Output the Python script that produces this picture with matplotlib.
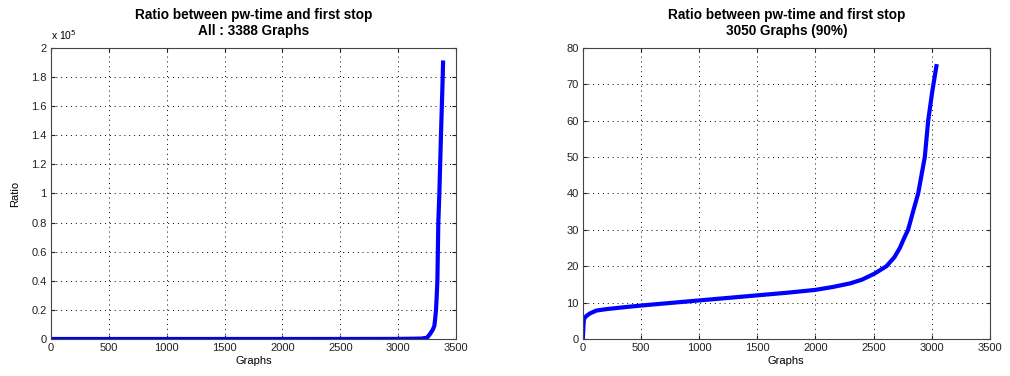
import numpy as np
import matplotlib
matplotlib.use("Agg")
import matplotlib.pyplot as plt
from matplotlib.ticker import FuncFormatter

# left panel: all graphs, sorted ratio
all_x = [1, 500, 1000, 1500, 2000, 2500, 3000, 3200, 3250, 3275, 3300, 3313,
         3320, 3327, 3333, 3339, 3343, 3347, 3356, 3370, 3385, 3388]
all_y = [5, 9, 11, 12, 14, 18, 75, 300, 900, 3400, 6500, 9100,
         14000, 20000, 29000, 40000, 60000, 80000, 100000, 140000, 180000, 190000]

# right panel: 90% of graphs
sub_x = [1, 5, 10, 30, 60, 115, 200, 315, 500, 750, 1000, 1250, 1500, 1750,
         2000, 2150, 2300, 2400, 2510, 2560, 2611, 2680, 2726, 2760, 2797,
         2840, 2884, 2941, 2970, 3005, 3041]
sub_y = [0.5, 3, 5.5, 6.3, 7.0, 7.8, 8.2, 8.6, 9.2, 9.9, 10.6, 11.3, 12.0,
         12.7, 13.5, 14.3, 15.3, 16.3, 18, 19, 20, 22.5, 25, 27.5, 30,
         35, 40, 50, 60, 68, 75]

title1 = "Ratio between pw-time and first stop\nAll : 3388 Graphs"
title2 = "Ratio between pw-time and first stop\n3050 Graphs (90%)"

plt.rcParams['font.family'] = ['Liberation Sans', 'DejaVu Sans']
plt.rcParams['font.size'] = 8

fig = plt.figure(figsize=(10.1, 3.76), dpi=100)
ax1 = fig.add_axes([0.0505, 0.0984, 0.401, 0.774])
ax2 = fig.add_axes([0.577, 0.0984, 0.403, 0.774])


def style(ax):
    ax.set_xlim(0, 3500)
    ax.set_xticks(np.arange(0, 3501, 500))
    ax.grid(True, linestyle=(0, (1, 4)), color='black', linewidth=0.7)
    ax.tick_params(direction='in', top=True, right=True, length=3,
                   labelsize=8, pad=3, colors='#222222')
    for s in ax.spines.values():
        s.set_color('#444444')
        s.set_linewidth(0.8)
    ax.set_xlabel("Graphs", fontsize=8, labelpad=2)


ax1.plot(all_x, all_y, color='#0000ff', linewidth=3)
style(ax1)
ax1.set_ylim(0, 2e5)
ax1.set_yticks(np.arange(0, 2.01e5, 0.2e5))
ax1.yaxis.set_major_formatter(FuncFormatter(lambda v, p: "%g" % round(v / 1e5, 1)))
ax1.set_ylabel("Ratio", fontsize=8, labelpad=8)
ax1.text(0.0, 1.02, r'x 10$^5$', transform=ax1.transAxes, fontsize=7.5,
         ha='left', va='bottom')
ax1.set_title(title1, fontsize=9.8, fontweight='bold', pad=9, linespacing=1.25)

ax2.plot(sub_x, sub_y, color='#0000ff', linewidth=3)
style(ax2)
ax2.set_ylim(0, 80)
ax2.set_yticks(np.arange(0, 81, 10))
ax2.set_title(title2, fontsize=9.8, fontweight='bold', pad=9, linespacing=1.25)

fig.savefig("out.png", dpi=100)
